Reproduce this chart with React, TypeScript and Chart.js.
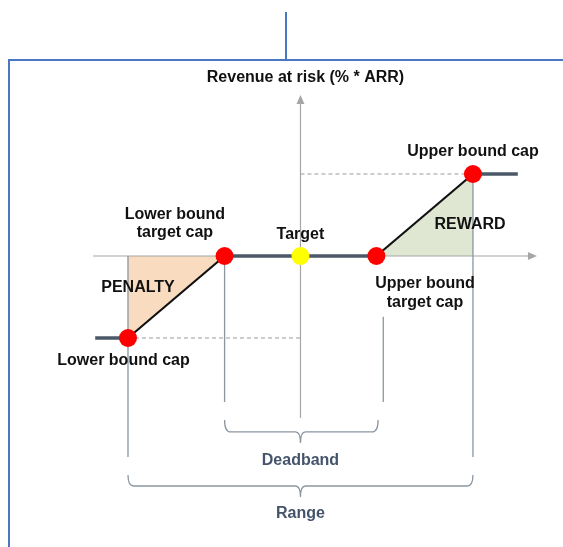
import React, { useEffect, useRef } from "react";
import { Chart, registerables } from "chart.js";

Chart.register(...registerables);

// ---- Data (conceptual units: performance vs revenue at risk) ----
const categories = [
  "Lower bound cap",
  "Lower bound target cap",
  "Target",
  "Upper bound target cap",
  "Upper bound cap",
];
const performance = [-100, -44, 0, 44, 100];
const revenueAtRisk = [-100, 0, 0, 0, 100];
const pointColors = ["#ff0000", "#ff0000", "#ffff00", "#ff0000", "#ff0000"];
const flatEnds = [-119, 126];
const xRange = [-174.2, 152.2];
const yRange = [-354.9, 312.2];
const axisX = [-120.3, 137.1];
const axisY = [-197.6, 196.3];
const dropLineX = [-100, -44, 48, 100];
const dropLineTop = [0, 0, -74, 100];
const dropLineBottom = [-245, -178, -178, -245];
const deadbandBracket = { x0: -44, x1: 45, top: -200, mid: -214.6, tip: -228 };
const rangeBracket = { x0: -100, x1: 100, top: -267, mid: -280.5, tip: -294 };

const textLabels = [
  { text: "Revenue at risk (% * ARR)", x: 2.9, y: 217, color: "#111111" },
  { text: "Upper bound cap", x: 100, y: 126.8, color: "#111111" },
  { text: "Lower bound", x: -72.8, y: 50, color: "#111111" },
  { text: "target cap", x: -72.8, y: 28, color: "#111111" },
  { text: "Target", x: 0, y: 25.6, color: "#111111" },
  { text: "PENALTY", x: -94.2, y: -39, color: "#111111" },
  { text: "Lower bound cap", x: -102.6, y: -128, color: "#111111" },
  { text: "REWARD", x: 98.3, y: 37.8, color: "#111111" },
  { text: "Upper bound", x: 72.2, y: -34, color: "#111111" },
  { text: "target cap", x: 72.2, y: -57.3, color: "#111111" },
  { text: "Deadband", x: 0, y: -249.4, color: "#44546a" },
  { text: "Range", x: 0, y: -314, color: "#44546a" },
];

const FONT = '"Liberation Sans", Arial, sans-serif';

const diagramPlugin = {
  id: "diagram",
  beforeDatasetsDraw(chart: any) {
    const { ctx } = chart;
    const xs = chart.scales.x;
    const ys = chart.scales.y;
    const px = (v: number) => xs.getPixelForValue(v);
    const py = (v: number) => ys.getPixelForValue(v);
    ctx.save();
    // axes
    ctx.strokeStyle = "#a6a6a6";
    ctx.fillStyle = "#a6a6a6";
    ctx.lineWidth = 1.2;
    ctx.beginPath();
    ctx.moveTo(px(axisX[0]), py(0));
    ctx.lineTo(px(axisX[1]) - 6, py(0));
    ctx.moveTo(px(0), py(axisY[1]) + 6);
    ctx.lineTo(px(0), py(axisY[0]));
    ctx.stroke();
    // arrow heads
    ctx.beginPath();
    ctx.moveTo(px(axisX[1]), py(0));
    ctx.lineTo(px(axisX[1]) - 9, py(0) - 4);
    ctx.lineTo(px(axisX[1]) - 9, py(0) + 4);
    ctx.closePath();
    ctx.fill();
    ctx.beginPath();
    ctx.moveTo(px(0), py(axisY[1]));
    ctx.lineTo(px(0) - 4, py(axisY[1]) + 9);
    ctx.lineTo(px(0) + 4, py(axisY[1]) + 9);
    ctx.closePath();
    ctx.fill();

    // dashed guide lines
    ctx.setLineDash([4, 3]);
    ctx.strokeStyle = "#9a9a9a";
    ctx.lineWidth = 1;
    ctx.beginPath();
    ctx.moveTo(px(performance[0]), py(revenueAtRisk[0]));
    ctx.lineTo(px(0), py(revenueAtRisk[0]));
    ctx.moveTo(px(0), py(revenueAtRisk[4]));
    ctx.lineTo(px(performance[4]), py(revenueAtRisk[4]));
    ctx.stroke();
    ctx.setLineDash([]);

    // drop lines
    ctx.strokeStyle = "#8a96a0";
    ctx.lineWidth = 1.3;
    ctx.beginPath();
    dropLineX.forEach((x, i) => {
      ctx.moveTo(px(x), py(dropLineTop[i]));
      ctx.lineTo(px(x), py(dropLineBottom[i]));
    });
    ctx.stroke();

    // brackets
    const bracket = (b: any) => {
      const xl = px(b.x0);
      const xr = px(b.x1);
      const cx = px(0);
      const t = py(b.top);
      const h = py(b.mid);
      const tip = py(b.tip);
      ctx.beginPath();
      ctx.moveTo(xl, t);
      ctx.quadraticCurveTo(xl, h, xl + 6, h);
      ctx.lineTo(cx - 5, h);
      ctx.quadraticCurveTo(cx, h, cx, tip);
      ctx.moveTo(cx, tip);
      ctx.quadraticCurveTo(cx, h, cx + 5, h);
      ctx.lineTo(xr - 6, h);
      ctx.quadraticCurveTo(xr, h, xr, t);
      ctx.stroke();
    };
    bracket(deadbandBracket);
    bracket(rangeBracket);
    ctx.restore();
  },
  afterDatasetsDraw(chart: any) {
    const { ctx } = chart;
    const xs = chart.scales.x;
    const ys = chart.scales.y;
    ctx.save();
    ctx.font = `bold 16px ${FONT}`;
    ctx.textAlign = "center";
    ctx.textBaseline = "middle";
    textLabels.forEach((l) => {
      ctx.fillStyle = l.color;
      ctx.fillText(l.text, xs.getPixelForValue(l.x), ys.getPixelForValue(l.y));
    });
    // blue frame
    ctx.strokeStyle = "#4a78c0";
    ctx.lineWidth = 2;
    ctx.beginPath();
    ctx.moveTo(286, 12);
    ctx.lineTo(286, 60);
    ctx.moveTo(9, chart.height);
    ctx.lineTo(9, 60);
    ctx.lineTo(chart.width, 60);
    ctx.stroke();
    ctx.restore();
  },
};

export default function App() {
  const ref = useRef<HTMLCanvasElement | null>(null);
  useEffect(() => {
    if (!ref.current) return;
    const pts = performance.map((x, i) => ({ x, y: revenueAtRisk[i] }));
    const chart = new Chart(ref.current, {
      type: "scatter",
      data: {
        datasets: [
          {
            label: "points",
            data: pts,
            showLine: false,
            pointRadius: 9,
            pointHoverRadius: 9,
            pointBackgroundColor: pointColors,
            pointBorderColor: pointColors,
            pointBorderWidth: 0,
            order: 0,
          },
          {
            label: "lower flat",
            data: [{ x: flatEnds[0], y: revenueAtRisk[0] }, pts[0]],
            showLine: true,
            borderColor: "#4b5966",
            borderWidth: 3.5,
            pointRadius: 0,
            order: 1,
          },
          {
            label: "deadband",
            data: [pts[1], pts[3]],
            showLine: true,
            borderColor: "#4b5966",
            borderWidth: 3.5,
            pointRadius: 0,
            order: 1,
          },
          {
            label: "upper flat",
            data: [pts[4], { x: flatEnds[1], y: revenueAtRisk[4] }],
            showLine: true,
            borderColor: "#4b5966",
            borderWidth: 3.5,
            pointRadius: 0,
            order: 1,
          },
          {
            label: "penalty",
            data: [pts[0], pts[1]],
            showLine: true,
            borderColor: "#111111",
            borderWidth: 2.2,
            pointRadius: 0,
            fill: { value: 0 },
            backgroundColor: "#f9dcbf",
            order: 2,
          },
          {
            label: "reward",
            data: [pts[3], pts[4]],
            showLine: true,
            borderColor: "#111111",
            borderWidth: 2.2,
            pointRadius: 0,
            fill: { value: 0 },
            backgroundColor: "#dfe6d2",
            order: 2,
          },
        ],
      },
      options: {
        animation: false,
        responsive: false,
        layout: { padding: 0, autoPadding: false } as any,
        scales: {
          x: { type: "linear", min: xRange[0], max: xRange[1], display: false },
          y: { type: "linear", min: yRange[0], max: yRange[1], display: false },
        },
        plugins: {
          legend: { display: false },
          tooltip: { enabled: false },
          filler: { drawTime: "beforeDatasetsDraw" },
        },
        elements: { line: { tension: 0 } },
        clip: false as any,
      },
      plugins: [diagramPlugin],
    });
    return () => chart.destroy();
  }, []);
  return (
    <div style={{ position: "fixed", left: 0, top: 0, width: 563, height: 547, background: "#ffffff" }}>
      <canvas ref={ref} width={563} height={547} style={{ display: "block" }} />
    </div>
  );
}
